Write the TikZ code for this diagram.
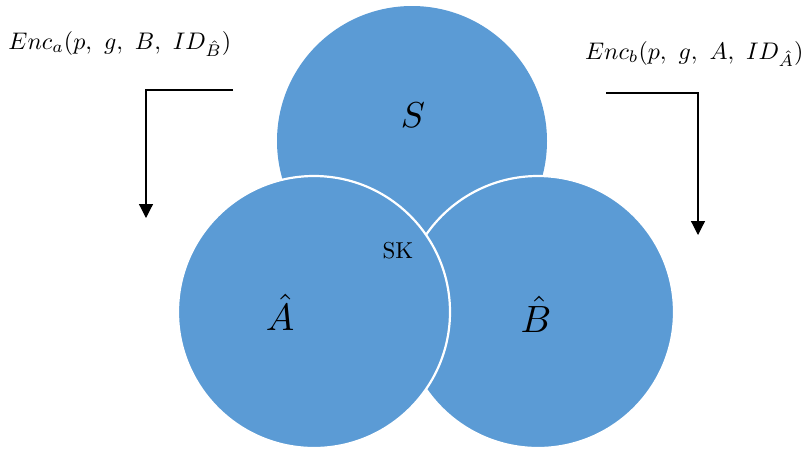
\documentclass[tikz,border=0pt]{standalone}
\usetikzlibrary{arrows.meta}
\definecolor{circblue}{HTML}{5B9BD5}
\begin{document}
\begin{tikzpicture}[x=1pt,y=-1pt,
  circ/.style={fill=circblue,draw=white,line width=2.2pt},
  flow/.style={draw=black,line width=1.2pt,-{Triangle[width=14pt,length=14pt]}},
  txt/.style={inner sep=0pt,transform shape,scale=#1},
  lbl/.style={inner sep=0pt,transform shape,scale=2.4}]
\useasboundingbox (0,0) rectangle (806,448);
\fill[circblue] (412,141) circle (135);
\path[circ] (538,312) circle (136);
\path[circ] (314,312) circle (136);
\node[txt=3.6] (s) at (413,115) {$S$};
\node[txt=3.8] (a) at (280,312) {$\hat{A}$};
\node[txt=3.8] (b) at (536,314) {$\hat{B}$};
\node[txt=2.3] (sk) at (398,251) {SK};
\node[lbl,anchor=west] (enca) at (8,44) {$Enc_a(p,\ g,\ B,\ ID_{\hat{B}})$};
\node[lbl,anchor=east] (encb) at (804,54) {$Enc_b(p,\ g,\ A,\ ID_{\hat{A}})$};
\coordinate (la) at (233,90);
\coordinate (lb) at (146,90);
\coordinate (lc) at (146,218);
\coordinate (ra) at (606,93);
\coordinate (rb) at (698,93);
\coordinate (rc) at (698,235);
\draw[flow] (la) -- (lb) -- (lc);
\draw[flow] (ra) -- (rb) -- (rc);
\end{tikzpicture}
\end{document}
